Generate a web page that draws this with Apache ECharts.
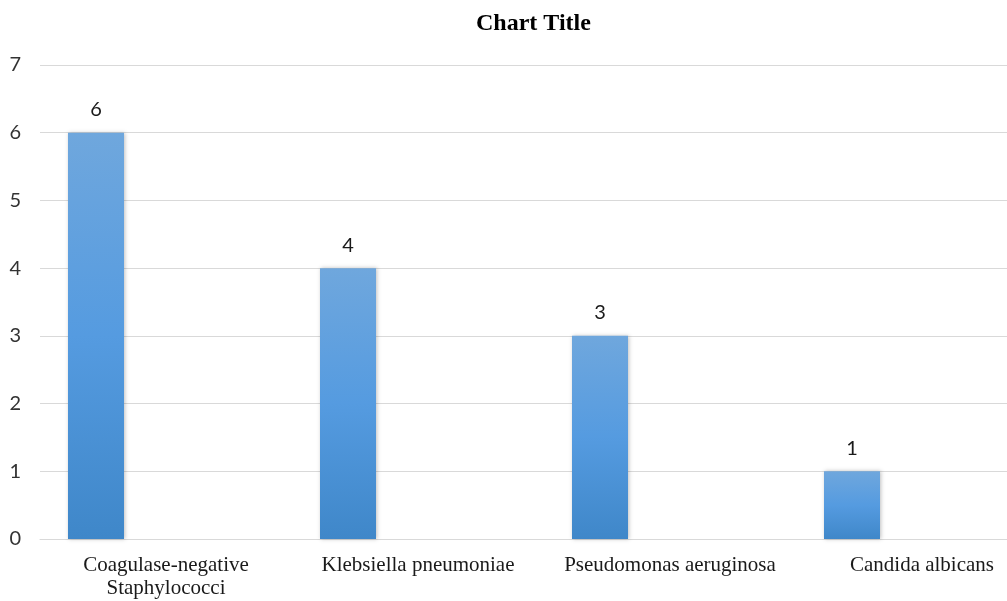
<!DOCTYPE html>
<html>
<head>
<meta charset="utf-8">
<script src="https://cdn.jsdelivr.net/npm/echarts@6/dist/echarts.min.js"></script>
<style>
  html, body { margin: 0; padding: 0; background: #fff; overflow: hidden; }
  #chart { width: 1060px; height: 601px; }
</style>
</head>
<body>
<div id="chart"></div>
<script>
// Isolated organisms and their counts
const categories = ['Coagulase-negative\nStaphylococci', 'Klebsiella pneumoniae', 'Pseudomonas aeruginosa', 'Candida albicans'];
const counts = [6, 4, 3, 1];
// Second (empty) series slot, keeps the bars to the left of each category
const emptySlot = [null, null, null, null];
const yTicks = [0, 1, 2, 3, 4, 5, 6, 7];

const sansFont = 'Lato, "Liberation Sans", sans-serif';
const serifFont = '"Liberation Serif", serif';

const chart = echarts.init(document.getElementById('chart'));
chart.setOption({
  animation: false,
  title: {
    text: 'Chart Title',
    left: 471,
    top: 7,
    textStyle: { fontFamily: serifFont, fontWeight: 'bold', fontSize: 24, color: '#000' }
  },
  grid: { left: 40, right: 12, top: 65, bottom: 62, containLabel: false },
  xAxis: {
    type: 'category',
    data: categories,
    axisLine: { show: true, lineStyle: { color: '#d9d9d9', width: 1 } },
    axisTick: { show: false },
    axisLabel: {
      interval: 0,
      fontFamily: serifFont, fontSize: 21, color: '#1a1a1a', margin: 15, lineHeight: 23
    }
  },
  yAxis: {
    type: 'value',
    min: yTicks[0],
    max: yTicks[yTicks.length - 1],
    interval: 1,
    axisLine: { show: false },
    axisTick: { show: false },
    splitLine: { lineStyle: { color: '#d9d9d9', width: 1 } },
    axisLabel: { fontFamily: sansFont, fontSize: 20, color: '#333', margin: 19 }
  },
  series: [
    {
      type: 'bar',
      data: counts,
      barWidth: 56,
      barGap: '150%',
      itemStyle: {
        color: new echarts.graphic.LinearGradient(0, 0, 0, 1, [
          { offset: 0, color: '#6fa7dd' },
          { offset: 0.5, color: '#559be0' },
          { offset: 1, color: '#3f87c9' }
        ]),
        shadowColor: 'rgba(0,0,0,0.25)',
        shadowBlur: 4,
        shadowOffsetX: 1
      },
      label: {
        show: true,
        position: 'top',
        distance: 13,
        fontFamily: sansFont,
        fontSize: 20,
        color: '#1a1a1a'
      }
    },
    {
      type: 'bar',
      data: emptySlot,
      barWidth: 56
    }
  ]
});
</script>
</body>
</html>
